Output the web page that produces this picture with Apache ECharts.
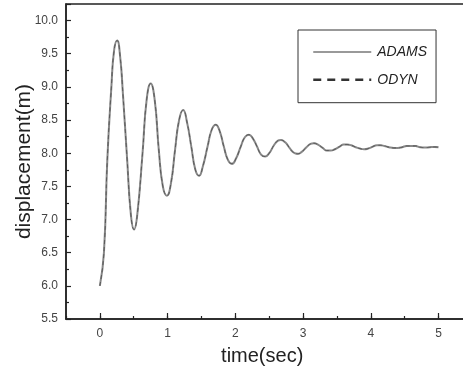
<!DOCTYPE html>
<html>
<head>
<meta charset="utf-8">
<script src="https://cdn.jsdelivr.net/npm/echarts@6/dist/echarts.min.js"></script>
<style>
  html, body { margin: 0; padding: 0; background: #fff; }
  #chart { width: 463px; height: 369px; }
</style>
</head>
<body>
<div id="chart"></div>
<script>
// values
const timeSec = [
  0.00, 0.06, 0.11, 0.17, 0.21, 0.255, 0.30, 0.34, 0.40, 0.46,
  0.505, 0.55, 0.63, 0.69, 0.75, 0.81, 0.87, 0.93, 0.99, 1.05,
  1.11, 1.17, 1.23, 1.29, 1.35, 1.41, 1.465, 1.52, 1.59, 1.65,
  1.71, 1.77, 1.83, 1.89, 1.95, 2.01, 2.08, 2.14, 2.20, 2.26,
  2.32, 2.38, 2.44, 2.50, 2.57, 2.63, 2.67, 2.74, 2.80, 2.86,
  2.92, 2.98, 3.05, 3.11, 3.16, 3.22, 3.29, 3.35, 3.41, 3.47,
  3.54, 3.60, 3.65, 3.71, 3.78, 3.84, 3.90, 3.96, 4.03, 4.09,
  4.14, 4.20, 4.27, 4.34, 4.40, 4.46, 4.53, 4.60, 4.66, 4.73,
  4.80, 4.87, 4.94, 5.00
];
const adamsDisp = [
  6.00, 6.50, 7.90, 9.00, 9.55, 9.70, 9.45, 8.90, 7.95, 7.05,
  6.85, 7.05, 8.00, 8.80, 9.05, 8.80, 8.05, 7.50, 7.36, 7.55,
  8.05, 8.50, 8.65, 8.45, 8.10, 7.75, 7.66, 7.80, 8.10, 8.35,
  8.43, 8.33, 8.10, 7.90, 7.84, 7.92, 8.10, 8.24, 8.28, 8.22,
  8.10, 7.98, 7.95, 8.00, 8.12, 8.19, 8.20, 8.16, 8.08, 8.01,
  7.99, 8.02, 8.09, 8.14, 8.15, 8.13, 8.08, 8.04, 8.04, 8.06,
  8.10, 8.13, 8.13, 8.12, 8.09, 8.07, 8.06, 8.07, 8.10, 8.12,
  8.12, 8.11, 8.09, 8.08, 8.08, 8.09, 8.11, 8.11, 8.11, 8.09,
  8.085, 8.09, 8.095, 8.09
];
const odynDisp = [
  6.00, 6.50, 7.90, 9.00, 9.55, 9.70, 9.45, 8.90, 7.95, 7.05,
  6.85, 7.05, 8.00, 8.80, 9.05, 8.80, 8.05, 7.50, 7.36, 7.55,
  8.05, 8.50, 8.65, 8.45, 8.10, 7.75, 7.66, 7.80, 8.10, 8.35,
  8.43, 8.33, 8.10, 7.90, 7.84, 7.92, 8.10, 8.24, 8.28, 8.22,
  8.10, 7.98, 7.95, 8.00, 8.12, 8.19, 8.20, 8.16, 8.08, 8.01,
  7.99, 8.02, 8.09, 8.14, 8.15, 8.13, 8.08, 8.04, 8.04, 8.06,
  8.10, 8.13, 8.13, 8.12, 8.09, 8.07, 8.06, 8.07, 8.10, 8.12,
  8.12, 8.11, 8.09, 8.08, 8.08, 8.09, 8.11, 8.11, 8.11, 8.09,
  8.085, 8.09, 8.095, 8.09
];
const seriesNames = ["ADAMS", "ODYN"];

const font = "Liberation Sans, Arial, sans-serif";
const ink = "#222";

const chart = echarts.init(document.getElementById("chart"));

const option = {
  animation: false,
  backgroundColor: "#fff",
  grid: [
    {
      left: 66, width: 406.4, top: 4, bottom: 50,
      outerBoundsMode: "none", containLabel: false,
      show: true, borderColor: ink, borderWidth: 1.5,
    },
    // second grid only carries the integer ticks and labels of the time axis
    { left: 99.9, width: 372.5, top: 4, bottom: 50, outerBoundsMode: "none", containLabel: false },
  ],
  legend: {
    orient: "vertical",
    left: 298,
    top: 30,
    padding: [15, 9, 16, 14],
    itemWidth: 58,
    itemHeight: 14,
    itemGap: 13.7,
    borderColor: "#333",
    borderWidth: 1,
    itemStyle: { opacity: 0 },
    textStyle: { fontFamily: font, fontSize: 14, fontStyle: "italic", color: "#222", padding: [0, 0, 0, 1] },
    data: [
      { name: "ADAMS", lineStyle: { color: "#777", width: 1.5, type: "solid" } },
      { name: "ODYN", lineStyle: { color: "#333", width: 2.5, type: [8, 6] } },
    ],
  },
  xAxis: [
    {
      type: "value",
      gridIndex: 0,
      min: -0.5,
      max: 5.5,
      interval: 0.5,
      name: "time(sec)",
      nameLocation: "middle",
      nameGap: 27,
      nameTextStyle: { fontFamily: font, fontSize: 20, color: ink, padding: [0, 14, 0, 0] },
      axisLine: { onZero: false, lineStyle: { color: ink, width: 1.5 } },
      axisTick: { inside: true, length: 3, lineStyle: { color: ink, width: 1.2 } },
      axisLabel: { show: false },
      splitLine: { show: false },
    },
    {
      type: "value",
      gridIndex: 1,
      min: 0,
      max: 5.5,
      interval: 1,
      axisLine: { show: false, onZero: false },
      axisTick: { inside: true, length: 6, lineStyle: { color: ink, width: 1.2 } },
      axisLabel: {
        margin: 9,
        fontFamily: font,
        fontSize: 12,
        color: "#444",
        formatter: (v) => (Number.isInteger(v) ? String(v) : ""),
      },
      splitLine: { show: false },
    },
  ],
  yAxis: [
    {
      type: "value",
      gridIndex: 0,
      min: 5.5,
      max: 10.25,
      interval: 0.5,
      name: "displacement(m)",
      nameLocation: "middle",
      nameGap: 31,
      nameMoveOverlap: false,
      nameTextStyle: { fontFamily: font, fontSize: 21, color: ink },
      axisLine: { onZero: false, lineStyle: { color: ink, width: 1.5 } },
      axisTick: { inside: true, length: 5, lineStyle: { color: ink, width: 1.2 } },
      minorTick: { show: true, splitNumber: 2, length: 3, lineStyle: { color: ink, width: 1.2 } },
      axisLabel: {
        margin: 8,
        fontFamily: font,
        fontSize: 12,
        color: "#444",
        formatter: (v) => (Math.abs(v * 2 - Math.round(v * 2)) < 1e-6 ? v.toFixed(1) : ""),
      },
      splitLine: { show: false },
    },
    {
      type: "value",
      gridIndex: 1,
      min: 5.5,
      max: 10.25,
      show: false,
      axisLine: { show: false, onZero: false },
      axisTick: { show: false },
      axisLabel: { show: false },
      splitLine: { show: false },
    },
  ],
  series: [
    {
      name: seriesNames[0],
      type: "line",
      xAxisIndex: 0,
      yAxisIndex: 0,
      smooth: true,
      symbol: "none",
      lineStyle: { color: "#888", width: 2 },
      data: timeSec.map((t, i) => [t, adamsDisp[i]]),
    },
    {
      name: seriesNames[1],
      type: "line",
      xAxisIndex: 0,
      yAxisIndex: 0,
      smooth: true,
      symbol: "none",
      lineStyle: { color: "#5a5a5a", width: 1, type: [4, 3] },
      data: timeSec.map((t, i) => [t, odynDisp[i]]),
    },
  ],
};

chart.setOption(option);
</script>
</body>
</html>
